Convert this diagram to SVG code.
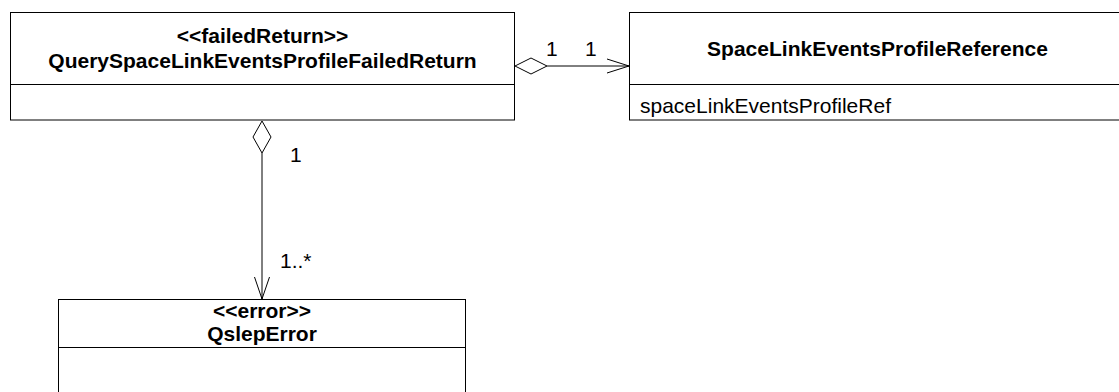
<svg xmlns="http://www.w3.org/2000/svg" width="1119" height="392" viewBox="0 0 1119 392">
<style>
.box{fill:#fff;stroke:#000;stroke-width:1}
.ln{fill:none;stroke:#000;stroke-width:1}
.dia{fill:#fff;stroke:#000;stroke-width:1}
text{font-family:"Liberation Sans",Arial,sans-serif;font-size:21px;fill:#000}
.b{font-weight:bold;text-anchor:middle}
</style>
<rect width="1119" height="392" fill="#fff"/>
<g id="QuerySpaceLinkEventsProfileFailedReturn">
<rect class="box" x="10.5" y="12.5" width="504" height="107.5"/>
<line class="ln" x1="10.5" y1="84.5" x2="514.5" y2="84.5"/>
<text class="b" x="262.5" y="43">&lt;&lt;failedReturn&gt;&gt;</text>
<text class="b" x="262.5" y="68">QuerySpaceLinkEventsProfileFailedReturn</text>
</g>
<g id="SpaceLinkEventsProfileReference">
<rect class="box" x="629.5" y="12.5" width="500" height="107.5"/>
<line class="ln" x1="629.5" y1="84.5" x2="1130" y2="84.5"/>
<text class="b" x="877.5" y="56">SpaceLinkEventsProfileReference</text>
<text x="640" y="113">spaceLinkEventsProfileRef</text>
</g>
<g id="QslepError">
<rect class="box" x="58.5" y="299.5" width="407" height="120"/>
<line class="ln" x1="58.5" y1="347.5" x2="465.5" y2="347.5"/>
<text class="b" x="262" y="318">&lt;&lt;error&gt;&gt;</text>
<text class="b" x="262" y="341">QslepError</text>
</g>
<g id="connectors">
<line class="ln" x1="547" y1="66" x2="629" y2="66"/>
<polygon class="dia" points="515,66 531,58 547,66 531,74"/>
<polyline class="ln" points="607,59 629,66 607,73"/>
<text x="546" y="56">1</text>
<text x="585" y="56">1</text>
<line class="ln" x1="262" y1="153" x2="262" y2="299"/>
<polygon class="dia" points="262,121 271,137 262,153 253,137"/>
<polyline class="ln" points="254.5,277 262,299 269.5,277"/>
<text x="290" y="162">1</text>
<text x="280" y="268">1..*</text>
</g>
</svg>
